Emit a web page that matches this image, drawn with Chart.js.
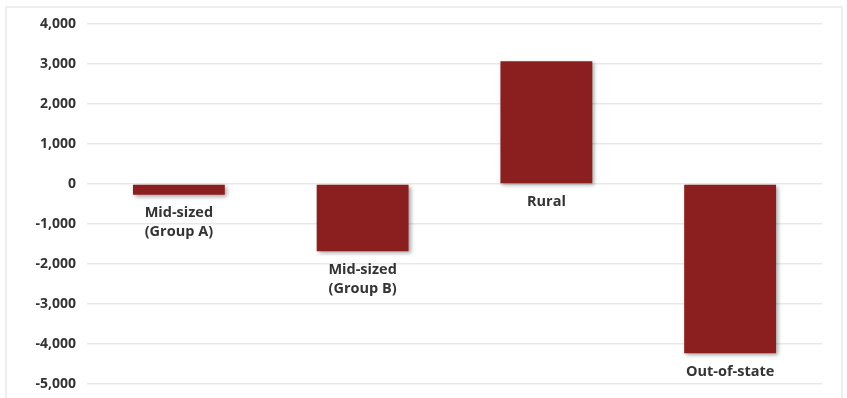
<!DOCTYPE html>
<html>
<head>
<meta charset="utf-8">
<script src="https://cdn.jsdelivr.net/npm/chart.js@4"></script>
<style>
  html, body { margin: 0; padding: 0; background: #fff; }
  #wrap { position: relative; width: 847px; height: 398px; }
  #frame {
    position: absolute; left: 5px; top: 6px; width: 838px; height: 396px;
    border: 2px solid #eeeeee; box-sizing: border-box;
  }
  canvas { position: absolute; left: 0; top: 0; }
</style>
</head>
<body>
<div id="wrap">
  <div id="frame"></div>
  <canvas id="chart" width="847" height="398"></canvas>
</div>
<script>
const categories = [
  ["Mid-sized", "(Group A)"],
  ["Mid-sized", "(Group B)"],
  ["Rural"],
  ["Out-of-state"]
];
const values = [-270, -1680, 3070, -4230];
const yMin = -5000;
const yMax = 4000;
const yStep = 1000;

// Schatten unter den Balken
const shadowPlugin = {
  id: "barShadow",
  beforeDatasetsDraw(chart) {
    const ctx = chart.ctx;
    ctx.save();
    ctx.shadowColor = "rgba(0,0,0,0.35)";
    ctx.shadowBlur = 4;
    ctx.shadowOffsetX = 2;
    ctx.shadowOffsetY = 2;
  },
  afterDatasetsDraw(chart) {
    chart.ctx.restore();
  }
};

// Beschriftung unter dem unteren Balkenende
const labelPlugin = {
  id: "barLabels",
  afterDraw(chart) {
    const ctx = chart.ctx;
    const meta = chart.getDatasetMeta(0);
    ctx.save();
    ctx.font = "bold 14.5px 'Open Sans'";
    ctx.fillStyle = "#333333";
    ctx.textAlign = "center";
    ctx.textBaseline = "top";
    meta.data.forEach((bar, i) => {
      const bottom = Math.max(bar.y, bar.base);
      categories[i].forEach((line, j) => {
        ctx.fillText(line, bar.x, bottom + 11 + j * 19);
      });
    });
    ctx.restore();
  }
};

new Chart(document.getElementById("chart"), {
  type: "bar",
  data: {
    labels: categories,
    datasets: [
      {
        data: values,
        backgroundColor: "#8b1e1e",
        borderWidth: 0,
        barPercentage: 0.5,
        categoryPercentage: 1
      }
    ]
  },
  options: {
    responsive: false,
    animation: false,
    layout: {
      padding: { left: 0, right: 25, top: 24, bottom: 14 }
    },
    plugins: {
      legend: { display: false },
      tooltip: { enabled: false }
    },
    scales: {
      x: { display: false },
      y: {
        min: yMin,
        max: yMax,
        afterFit(scale) {
          scale.width = 87;
          scale.paddingTop = 0;
          scale.paddingBottom = 0;
        },
        border: { display: false },
        grid: { color: "#e8e8e8", lineWidth: 1.5, drawTicks: false },
        ticks: {
          stepSize: yStep,
          padding: 11,
          color: "#333333",
          font: { family: "'Open Sans'", size: 14, weight: "bold" },
          callback: v => v.toLocaleString("en-US")
        }
      }
    }
  },
  plugins: [shadowPlugin, labelPlugin]
});
</script>
</body>
</html>
